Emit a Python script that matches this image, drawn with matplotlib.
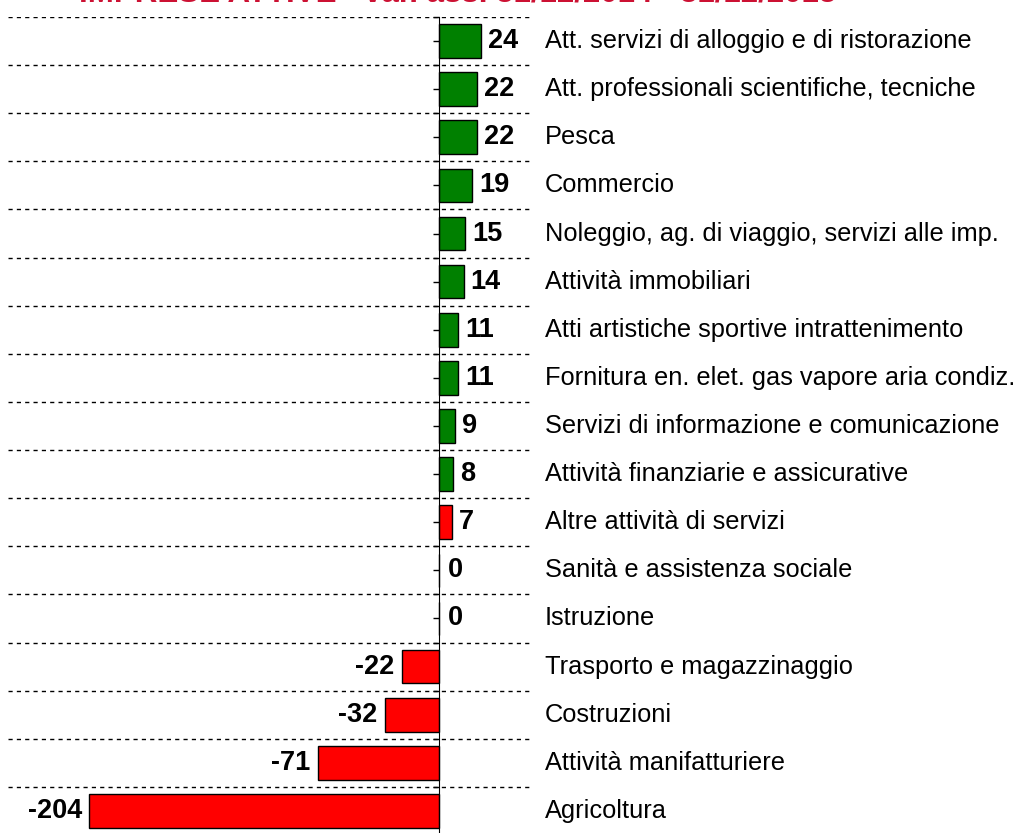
import matplotlib.pyplot as plt
import numpy as np

plt.rcParams['font.family'] = ['Liberation Sans', 'DejaVu Sans']

categories = [
    "Att. servizi di alloggio e di ristorazione",
    "Att. professionali scientifiche, tecniche",
    "Pesca",
    "Commercio",
    "Noleggio, ag. di viaggio, servizi alle imp.",
    "Attività immobiliari",
    "Atti artistiche sportive intrattenimento",
    "Fornitura en. elet. gas vapore aria condiz.",
    "Servizi di informazione e comunicazione",
    "Attività finanziarie e assicurative",
    "Altre attività di servizi",
    "Sanità e assistenza sociale",
    "Istruzione",
    "Trasporto e magazzinaggio",
    "Costruzioni",
    "Attività manifatturiere",
    "Agricoltura",
]
values = [24, 22, 22, 19, 15, 14, 11, 11, 9, 8, 7, 0, 0, -22, -32, -71, -204]
colors = ["#008000"] * 10 + ["#FF0000"] * 7
title = "IMPRESE ATTIVE - var. ass. 31/12/2014 - 31/12/2015"

W, H = 1019, 833
fig = plt.figure(figsize=(W / 100, H / 100), dpi=100)

# axes in pixel coordinates: x 8..533, y 17..835 (from top)
ax = fig.add_axes([8 / W, (H - 835) / H, (533 - 8) / W, (835 - 17) / H])
n = len(categories)
y = np.arange(n)
ax.set_xlim(-251.5, 54.5)
ax.set_ylim(n - 0.5, -0.5)

for b in np.arange(n) - 0.5:
    ax.axhline(b, color="black", lw=1, ls=(0, (3, 3)), zorder=1)

ax.barh(y, values, height=0.7, color=colors, edgecolor="black", lw=1, zorder=2)

for spine in ["top", "right", "bottom"]:
    ax.spines[spine].set_visible(False)
ax.spines["left"].set_position(("data", 0))
ax.spines["left"].set_zorder(3)
ax.set_xticks([])
ax.set_yticks(y)
ax.set_yticks(np.arange(n + 1) - 0.5, minor=True)
ax.set_yticklabels([])
ax.tick_params(axis="y", which="both", direction="out", length=4, width=1)

for yi, v in zip(y, values):
    if v > 0:
        off, ha = 7, "left"
    elif v < 0:
        off, ha = -7, "right"
    else:
        off, ha = 8, "left"
    ax.annotate(str(v), (v, yi), xytext=(off, 0), textcoords="offset pixels",
                ha=ha, va="center", fontsize=19.5, fontweight="bold")

for yi, c in zip(y, categories):
    ax.annotate(c, (1, yi), xycoords=("axes fraction", "data"), xytext=(12, 0),
                textcoords="offset pixels", ha="left", va="center", fontsize=18.3)

# title is cut off at the top edge, as in the original
fig.text(458 / W, 1 - 1 / H, title, ha="center", va="baseline",
         fontsize=22.5, fontweight="bold", color="#CC1133")

fig.savefig("out.png", dpi=100)
